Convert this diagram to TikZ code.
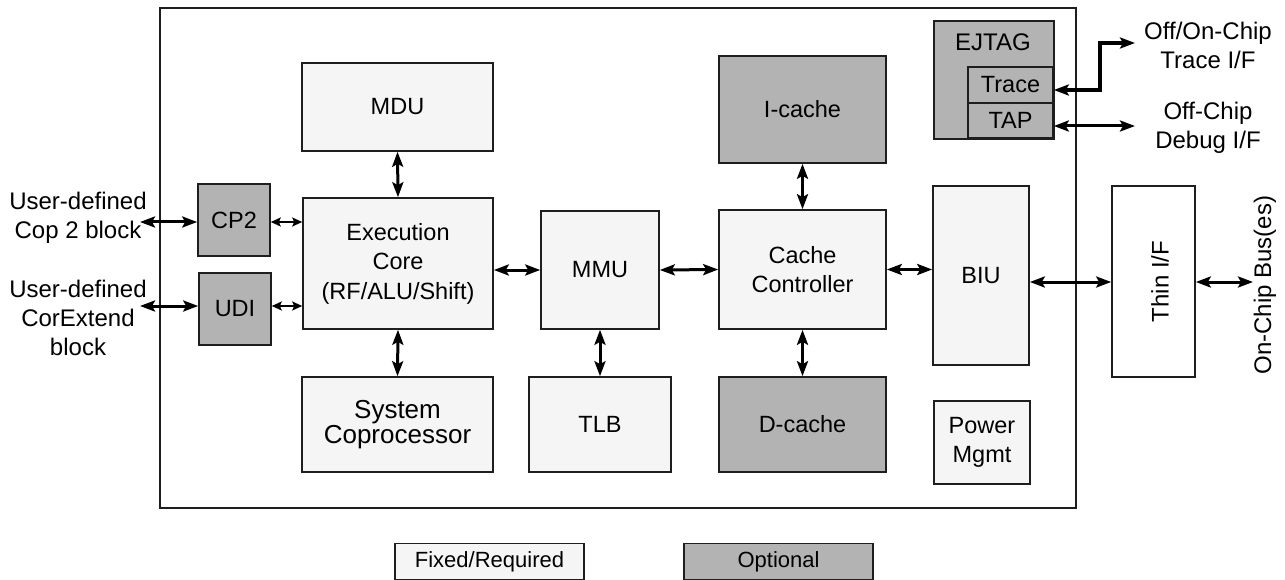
\documentclass[tikz,border=0pt]{standalone}
\usepackage{fontspec}
\setmainfont{Liberation Sans}
\usetikzlibrary{arrows.meta,calc}
\definecolor{fixfill}{RGB}{245,245,245}
\definecolor{optfill}{RGB}{179,179,179}
\definecolor{edgec}{RGB}{30,30,30}
\begin{document}
\begin{tikzpicture}[x=1pt,y=-1pt,
  sz/.style 2 args={minimum width=#1pt,minimum height=#2pt},
  blk/.style={draw=edgec,line width=1.6pt,inner sep=0pt,align=center,font=\fontsize{23.5}{29.5}\selectfont},
  fixb/.style={blk,fill=fixfill},
  optb/.style={blk,fill=optfill},
  lbl/.style={align=center,font=\fontsize{24}{29}\selectfont,inner sep=0pt},
  arr/.style={line width=3pt,{Stealth[length=15pt,width=11pt,inset=3pt]}-{Stealth[length=15pt,width=11pt,inset=3pt]}},
  sarr/.style={line width=2.6pt,{Stealth[length=10pt,width=9pt,inset=2pt]}-{Stealth[length=10pt,width=9pt,inset=2pt]}},
]
\useasboundingbox (0,0) rectangle (1285,580);

% chip outline
\node[draw=edgec,line width=1.6pt,sz={916}{500}] (chip) at (618,258) {};

% blocks
\node[fixb,sz={191}{88}] (mdu) at (397.5,107) {MDU};
\node[fixb,sz={190}{131}] (exec) at (398,263.5) {Execution\\Core\\(RF/ALU/Shift)};
\node[fixb,sz={191}{95},font=\fontsize{26}{25}\selectfont] (sysc) at (397.5,424.5) {System\\Coprocessor};
\node[optb,sz={72}{72}] (cp2) at (234,220) {CP2};
\node[optb,sz={72}{72}] (udi) at (235,309) {UDI};
\node[fixb,sz={118}{118}] (mmu) at (600,270) {MMU};
\node[fixb,sz={142}{95}] (tlb) at (600,424.5) {TLB};
\node[optb,sz={167}{107}] (icache) at (802.5,109.5) {I-cache};
\node[fixb,sz={167}{119}] (cc) at (802.5,269.5) {Cache\\Controller};
\node[optb,sz={167}{95}] (dcache) at (802.5,424.5) {D-cache};
\node[fixb,sz={96}{179}] (biu) at (981,275.5) {BIU};
\node[fixb,sz={96}{83}] (pwr) at (982,442.5) {Power\\Mgmt};

% EJTAG
\node[optb,sz={120}{118},anchor=north west] (ejtag) at (933,20) {};
\node[lbl] (ejtagt) at (993,42) {EJTAG};
\node[optb,sz={85}{36}] (trace) at (1010.5,85) {Trace};
\node[optb,sz={85}{35}] (tap) at (1010.5,120.5) {TAP};

% Thin I/F
\node[blk,fill=white,sz={83}{191}] (thin) at (1153.5,281.5) {};
\node[lbl,rotate=90] (thint) at (1160,281.5) {Thin I/F};
\node[lbl,rotate=90] (bus) at (1265,285) {On-Chip Bus(es)};

% external labels
\node[lbl] (offon) at (1208,45) {Off/On-Chip\\Trace I/F};
\node[lbl] (offc) at (1208,128) {Off-Chip\\Debug I/F};
\node[lbl] (ucop) at (78,217.5) {User-defined\\Cop 2 block};
\node[lbl] (ucor) at (78,318) {User-defined\\CorExtend\\block};

% legend
\node[fixb,sz={189}{36},font=\fontsize{22}{26}\selectfont] (legf) at (489.5,561.5) {Fixed/Required};
\node[optb,sz={189}{36},font=\fontsize{22}{26}\selectfont] (lego) at (778.5,561.5) {Optional};

% coordinates for free ends
\coordinate (trk) at (1100,43);
\coordinate (trend) at (1135,43);
\coordinate (tapend) at (1135,126);
\coordinate (busend) at (1253,282);
\coordinate (cp2end) at (140,222);
\coordinate (udiend) at (140,306);

% connectors
\draw[arr] (mdu.south) -- (exec.north);
\draw[arr] (exec.south) -- (sysc.north);
\draw[arr] (mmu.south) -- (tlb.north);
\draw[arr] (icache.south) -- (cc.north);
\draw[arr] (cc.south) -- (dcache.north);
\draw[arr] (exec.east |- mmu.west) -- (mmu.west);
\draw[arr] (mmu.east) -- (cc.west);
\draw[arr] (cc.east) -- (cc.east -| biu.west);
\draw[arr] (biu.east |- 0,282) -- (thin.west |- 0,282);
\draw[arr] (thin.east |- 0,282) -- (busend);
\draw[arr] (cp2end) -- (cp2.west |- cp2end);
\draw[arr] (udiend) -- (udi.west |- udiend);
\draw[sarr] (cp2.east |- 0,222) -- (exec.west |- 0,222);
\draw[sarr] (udi.east |- 0,306) -- (exec.west |- 0,306);
\draw[arr,line width=4pt] (trace.east |- 0,90) -| (trk) -- (trend);
\draw[arr] (tap.east |- tapend) -- (tapend);
\end{tikzpicture}
\end{document}
